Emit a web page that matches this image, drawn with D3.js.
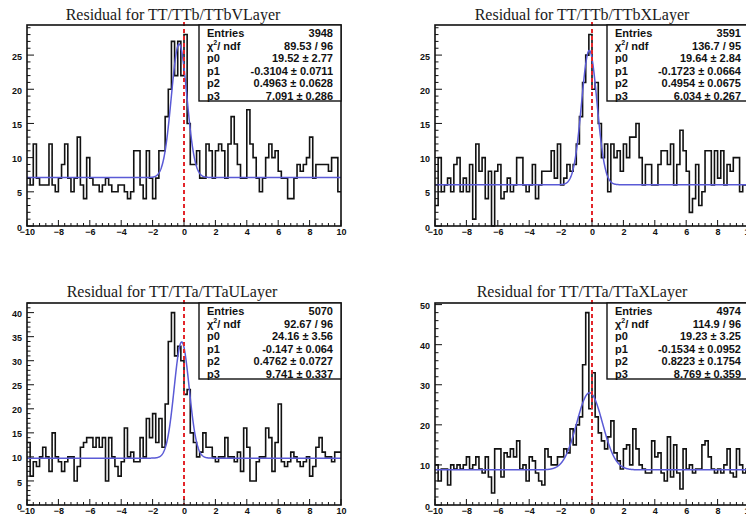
<!DOCTYPE html>
<html><head><meta charset="utf-8">
<script src="https://cdn.jsdelivr.net/npm/d3@7"></script>
<style>body{margin:0;background:#fff}svg{display:block}</style>
</head><body>
<svg id="c" width="746" height="518"></svg>
<script>
// ---------- data ----------
const titles = [
  "Residual for TT/TTb/TTbVLayer",
  "Residual for TT/TTb/TTbXLayer",
  "Residual for TT/TTa/TTaULayer",
  "Residual for TT/TTa/TTaXLayer"
];
const counts1 = [7,6,12,7,6, 6,6,12,6,5, 7,9,12,7,5, 7,13,6,4,10, 7,6,6,5,6, 7,6,5,5,6,
  6,5,4,5,11, 11,6,4,11,7, 4,7,11,11,16, 20,27,22,27,22, 28,15,9,9,11, 7,7,12,11,7,
  11,12,11,7,12, 16,12,9,7,7, 17,12,10,7,5, 7,10,12,10,11, 8,7,7,4,4, 7,9,8,9,10,
  13,7,9,9,9, 9,8,10,10,5];
const counts2 = [3,10,5,6,7, 5,9,10,5,7, 5,9,1,12,8, 10,4,8,0,8, 9,4,5,7,5, 6,10,10,6,5,
  6,9,4,6,8, 8,8,11,7,12, 6,7,9,8,9, 12,16,21,25,28, 20,21,15,10,12, 5,12,10,11,8,
  12,10,13,13,15, 10,6,9,9,6, 6,9,11,11,9, 12,6,9,14,11, 8,2,4,9,3, 5,11,11,6,11,
  7,11,6,9,8, 10,10,5,6,6];
const counts3 = [13,6,9,8,10, 12,10,7,15,10, 9,7,9,10,10, 5,8,12,13,14, 14,12,14,12,14,
  5,14,10,8,6, 9,16,10,11,9, 9,14,10,18,14, 19,13,18,12,21, 34,40,31,33,30,
  23,24,15,13,10, 11,15,12,12,10, 9,10,10,14,10, 10,9,11,7,16, 12,5,5,9,10,
  10,16,14,7,13, 21,9,8,9,11, 10,9,8,9,10, 6,8,12,14,11, 10,10,9,11,11];
const counts4 = [10,6,9,9,5, 10,9,10,9,10, 12,9,10,12,9, 8,12,7,3,14, 14,7,13,12,14,
  12,16,9,10,6, 12,11,8,6,5, 14,12,10,10,12, 12,14,13,19,15, 20,22,35,48,24,
  33,22,18,16,14, 17,21,13,11,9, 14,15,10,19,14, 10,9,8,8,16, 12,13,8,6,17,
  7,15,8,4,14, 9,10,8,9,9, 15,16,12,9,8, 9,8,10,14,8, 7,14,10,8,9];
const allCounts = [counts1, counts2, counts3, counts4];

const entries = [3948, 3591, 5070, 4974];
const chi2 = ["89.53 / 96", "136.7 / 95", "92.67 / 96", "114.9 / 96"];
const p0 = [19.52, 19.64, 24.16, 19.23];
const p0err = ["2.77", "2.84", "3.56", "3.25"];
const p1 = [-0.3104, -0.1723, -0.147, -0.1534];
const p1err = ["0.0711", "0.0664", "0.064", "0.0952"];
const p2 = [0.4963, 0.4954, 0.4762, 0.8223];
const p2err = ["0.0628", "0.0675", "0.0727", "0.1754"];
const p3 = [7.091, 6.034, 9.741, 8.769];
const p3err = ["0.286", "0.267", "0.337", "0.359"];

const xRange = [-10, 10];
const xTickLabels = [-10, -8, -6, -4, -2, 0, 2, 4, 6, 8, 10];
const yMajorStep = [5, 5, 5, 10];
const yMinorStep = [1, 1, 1, 2];

// ---------- layout ----------
const panels = [
  {left: 27,  top: 25,  w: 314, h: 201, tx: 173, ty: 20},
  {left: 435, top: 25,  w: 314, h: 201, tx: 582, ty: 20},
  {left: 27,  top: 303, w: 314, h: 202, tx: 172, ty: 297},
  {left: 435, top: 303, w: 314, h: 202, tx: 582, ty: 297}
];

const svg = d3.select("#c");
const sans = "'Liberation Sans', Arial, Helvetica, sans-serif";

panels.forEach((P, k) => {
  const counts = allCounts[k];
  const nb = counts.length;
  const bw = (xRange[1] - xRange[0]) / nb;
  const ymax = 1.05 * d3.max(counts);
  const x = d3.scaleLinear().domain(xRange).range([P.left, P.left + P.w]);
  const y = d3.scaleLinear().domain([0, ymax]).range([P.top + P.h, P.top]);
  const g = svg.append("g");

  // title
  g.append("text").attr("x", P.tx).attr("y", P.ty)
    .attr("text-anchor", "middle")
    .attr("font-family", "'Liberation Serif', 'Times New Roman', serif")
    .attr("font-size", 16).attr("fill", "#1a1a1a").text(titles[k]);

  // histogram
  const pts = counts.map((c, i) => [xRange[0] + i * bw, c]);
  pts.push([xRange[1], counts[nb - 1]]);
  g.append("path").datum(pts)
    .attr("d", d3.line().x(d => x(d[0])).y(d => y(d[1])).curve(d3.curveStepAfter))
    .attr("fill", "none").attr("stroke", "#111").attr("stroke-width", 1.6);

  // fit curve
  const fx = d3.range(xRange[0], xRange[1] + 1e-9, 0.02);
  const f = v => p0[k] * Math.exp(-0.5 * Math.pow((v - p1[k]) / p2[k], 2)) + p3[k];
  g.append("path").datum(fx)
    .attr("d", d3.line().x(v => x(v)).y(v => y(f(v))))
    .attr("fill", "none").attr("stroke", "#5a5ad6").attr("stroke-width", 1.5);

  // red dashed line at 0
  g.append("line").attr("x1", x(0)).attr("x2", x(0))
    .attr("y1", P.top - 3).attr("y2", P.top + P.h)
    .attr("stroke", "#e3262b").attr("stroke-width", 2).attr("stroke-dasharray", "4,3");

  // frame
  g.append("rect").attr("x", P.left).attr("y", P.top).attr("width", P.w).attr("height", P.h)
    .attr("fill", "none").attr("stroke", "#111").attr("stroke-width", 1.6);

  // x axis (ticks inside)
  const xAxis = d3.axisBottom(x).tickValues(xTickLabels).tickSize(0).tickFormat(d3.format("d"));
  const xa = g.append("g").attr("transform", `translate(0,${P.top + P.h})`).call(xAxis);
  xa.select(".domain").remove();
  xa.selectAll("text").attr("dy", "0.71em").attr("y", 3)
    .attr("font-family", sans).attr("font-weight", "bold").attr("font-size", 9).attr("fill", "#111");
  const xMinor = d3.range(xRange[0], xRange[1] + 1e-9, 0.4);
  g.append("g").selectAll("line").data(xMinor).join("line")
    .attr("x1", d => x(d)).attr("x2", d => x(d))
    .attr("y1", P.top + P.h)
    .attr("y2", d => P.top + P.h - (Math.abs(Math.round(d * 10) % 20) === 0 ? 6 : 3))
    .attr("stroke", "#111").attr("stroke-width", 1);

  // y axis (ticks inside)
  const yMaj = d3.range(0, ymax + 1e-9, yMajorStep[k]);
  const yAxis = d3.axisLeft(y).tickValues(yMaj).tickSize(0).tickFormat(d3.format("d"));
  const ya = g.append("g").attr("transform", `translate(${P.left},0)`).call(yAxis);
  ya.select(".domain").remove();
  ya.selectAll("text").attr("x", -5).attr("dy", "0.45em")
    .attr("font-family", sans).attr("font-weight", "bold").attr("font-size", 9).attr("fill", "#111");
  const yMin = d3.range(0, ymax + 1e-9, yMinorStep[k]);
  g.append("g").selectAll("line").data(yMin).join("line")
    .attr("x1", P.left)
    .attr("x2", d => P.left + (d % yMajorStep[k] === 0 ? 7 : 3.5))
    .attr("y1", d => y(d)).attr("y2", d => y(d))
    .attr("stroke", "#111").attr("stroke-width", 1);

  // stats box
  const bx = P.left + 172, by = P.top, bwid = P.w - 172, bh = 76;
  g.append("rect").attr("x", bx).attr("y", by).attr("width", bwid).attr("height", bh)
    .attr("fill", "#fff").attr("stroke", "#111").attr("stroke-width", 1.4);
  const rows = [
    ["Entries", String(entries[k])],
    ["chi", chi2[k]],
    ["p0", `${p0[k]} \u00b1 ${p0err[k]}`],
    ["p1", `${p1[k]} \u00b1 ${p1err[k]}`],
    ["p2", `${p2[k]} \u00b1 ${p2err[k]}`],
    ["p3", `${p3[k]} \u00b1 ${p3err[k]}`]
  ];
  rows.forEach((r, i) => {
    const yy = by + 12 + i * 12.6;
    const lt = g.append("text").attr("x", bx + 8).attr("y", yy)
      .attr("font-family", sans).attr("font-weight", "bold").attr("font-size", 11).attr("fill", "#111");
    if (r[0] === "chi") {
      lt.append("tspan").text("\u03c7");
      lt.append("tspan").attr("font-size", 7).attr("dy", -5).attr("dx", 0).text("2");
      lt.append("tspan").attr("dy", 5).attr("dx", 0).text("/ ndf");
    } else {
      lt.text(r[0]);
    }
    g.append("text").attr("x", P.left + P.w - 8).attr("y", yy).attr("text-anchor", "end")
      .attr("font-family", sans).attr("font-weight", "bold").attr("font-size", 11).attr("fill", "#111")
      .text(r[1]);
  });
});
</script>
</body></html>
